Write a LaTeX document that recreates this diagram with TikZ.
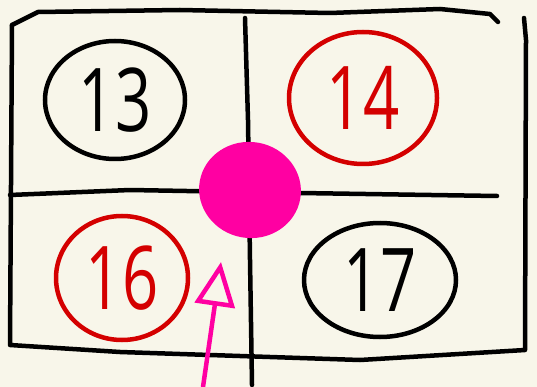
\documentclass[tikz,border=0pt]{standalone}
\usepackage{fontspec}
\setmainfont{Open Sans}
\usetikzlibrary{shapes.geometric,arrows.meta}
\definecolor{paper}{HTML}{F8F6EA}
\definecolor{penred}{HTML}{D40000}
\definecolor{penpink}{HTML}{FF00A2}
\tikzset{
  ring/.style={draw, ellipse, line width=4.5pt, inner sep=0pt,
    font=\fontsize{88}{88}\selectfont\addfontfeatures{FakeStretch=0.72}},
  grid/.style={line width=4.5pt, line cap=round, line join=round}
}
\begin{document}
\begin{tikzpicture}[x=1pt,y=-1pt]
  \fill[paper] (0,0) rectangle (537,387);
  \useasboundingbox (0,0) rectangle (537,387);
  % frame and cross
  \draw[grid] (12,25) -- (38,12) -- (180,10) -- (330,13) -- (440,9) -- (490,14) -- (498,22);
  \draw[grid] (12,25) -- (10,345) -- (120,352) -- (360,360) -- (525,350) -- (526,40) -- (524,18);
  \draw[grid] (245,18) -- (248,120) -- (250,260) -- (252,385);
  \draw[grid] (10,195) -- (130,190) -- (300,193) -- (497,196);
  % numbers
  \node[ring, minimum width=140, minimum height=118] (n13) at (115,100) {13};
  \node[ring, draw=penred, text=penred, minimum width=148, minimum height=132] (n14) at (363,98) {14};
  \node[ring, draw=penred, text=penred, minimum width=132, minimum height=124] (n16) at (122,278) {16};
  \node[ring, minimum width=152, minimum height=114] (n17) at (380,280) {17};
  % highlight
  \node[ellipse, fill=penpink, minimum width=102, minimum height=96, rotate=-10] (blob) at (250,190) {};
  \coordinate (tail) at (203,387);
  \coordinate (tip) at (221,262);
  \draw[penpink, line width=4.5pt, -{Triangle[open,length=44pt,width=40pt,line width=4.5pt]}] (tail) -- (tip);
\end{tikzpicture}
\end{document}
